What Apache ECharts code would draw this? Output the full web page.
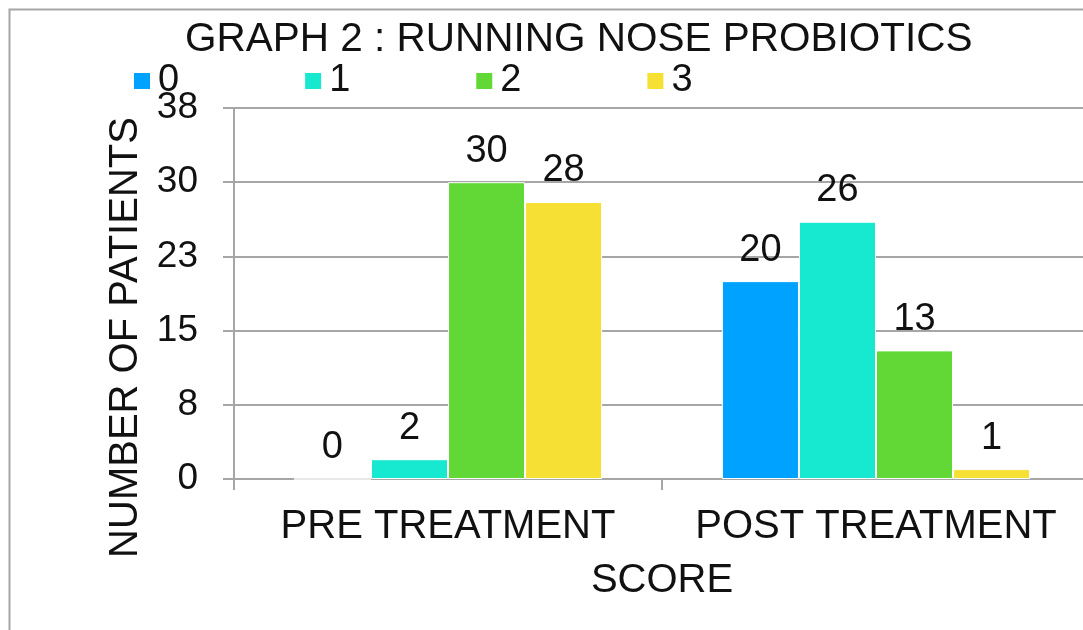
<!DOCTYPE html>
<html>
<head>
<meta charset="utf-8">
<style>
  html, body { margin: 0; padding: 0; background: #fff; overflow: hidden; }
  #chart { width: 1090px; height: 630px; }
</style>
<script src="https://cdn.jsdelivr.net/npm/echarts@6/dist/echarts.min.js"></script>
</head>
<body>
<div id="chart"></div>
<script>
  // data
  var categories = ['PRE TREATMENT', 'POST TREATMENT']
  var scoreNames = ['0', '1', '2', '3']
  var score0 = [0, 20]
  var score1 = [2, 26]
  var score2 = [30, 13]
  var score3 = [28, 1]
  var colors = ['#00A2FF', '#17E8D0', '#62D836', '#F7E034']

  var font = '"Liberation Sans", Arial, sans-serif'
  var gray = '#a6a6a6'

  function makeSeries(name, data, color) {
    return {
      name: name,
      type: 'bar',
      data: data,
      barGap: 0,
      barCategoryGap: '28%',
      itemStyle: {
        color: color,
        borderColor: '#fff',
        borderWidth: 1
      },
      label: {
        show: true,
        position: 'top',
        distance: 12,
        color: '#111',
        fontFamily: font,
        fontSize: 38
      },
      animation: false
    }
  }

  var chart = echarts.init(document.getElementById('chart'))
  chart.setOption({
    backgroundColor: '#fff',
    color: colors,
    graphic: [{
      type: 'rect',
      left: 7,
      top: 7,
      shape: {width: 2000, height: 2000},
      style: {fill: 'none', stroke: gray, lineWidth: 2},
      silent: true
    }],
    title: {
      text: 'GRAPH 2 : RUNNING NOSE PROBIOTICS',
      left: 180,
      top: 14,
      textStyle: {
        fontFamily: font,
        fontSize: 40.5,
        fontWeight: 'normal',
        color: '#111'
      }
    },
    legend: {
      data: scoreNames,
      left: 127,
      top: 57,
      itemWidth: 18,
      itemHeight: 18,
      itemGap: 124,
      icon: 'rect',
      textStyle: {
        fontFamily: font,
        fontSize: 38,
        color: '#111',
        padding: [0, 0, 0, 2]
      }
    },
    grid: {
      left: 234,
      right: 0,
      top: 108,
      bottom: 151,
      containLabel: false
    },
    xAxis: {
      type: 'category',
      data: categories,
      name: 'SCORE',
      nameLocation: 'middle',
      nameGap: 82,
      nameTextStyle: {fontFamily: font, fontSize: 40, color: '#111'},
      axisLine: {lineStyle: {color: gray, width: 2}},
      axisTick: {show: true, interval: 0, length: 11, lineStyle: {color: gray, width: 2}},
      axisLabel: {interval: 0, fontFamily: font, fontSize: 40, color: '#111', margin: 28}
    },
    yAxis: {
      type: 'value',
      min: 0,
      max: 37.5,
      interval: 7.5,
      name: 'NUMBER OF PATIENTS',
      nameLocation: 'middle',
      nameGap: 84,
      nameTextStyle: {
        fontFamily: font,
        fontSize: 40,
        color: '#111',
        padding: [0, 88, 0, 0]
      },
      axisLine: {show: true, lineStyle: {color: gray, width: 2}},
      axisTick: {show: true, length: 11, lineStyle: {color: gray, width: 2}},
      splitLine: {lineStyle: {color: gray, width: 2}},
      axisLabel: {
        fontFamily: font,
        fontSize: 37,
        color: '#111',
        margin: 36,
        formatter: function (v) { return Math.round(v) }
      }
    },
    series: [
      makeSeries('0', score0, colors[0]),
      makeSeries('1', score1, colors[1]),
      makeSeries('2', score2, colors[2]),
      makeSeries('3', score3, colors[3])
    ]
  })
</script>
</body>
</html>
